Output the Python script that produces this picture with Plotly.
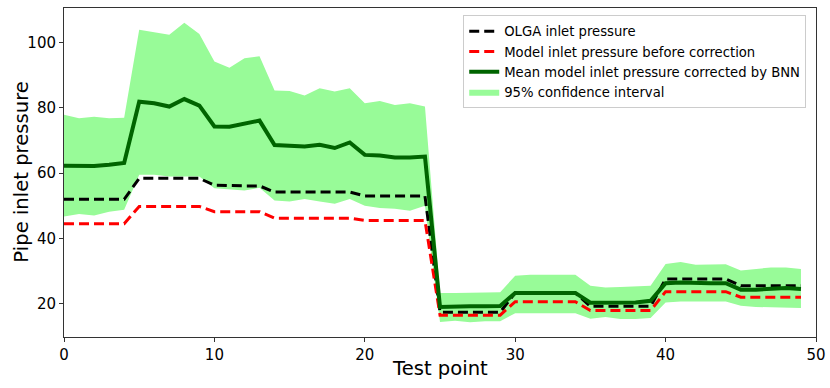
import numpy as np
import plotly.graph_objects as go

# test point index
test_point = list(range(50))

# OLGA inlet pressure (reference)
olga = [52.0] * 5 + [58.4] * 5 + [56.3] + [56.1] * 3 + [54.2] * 6 + [53.0] * 5 \
     + [17.4] * 5 + [23.3] * 5 + [19.2] * 5 + [27.6] * 5 + [25.5] * 5

# model before correction
model_raw = [44.5] * 5 + [49.8] * 5 + [48.2] * 4 + [46.2] * 6 + [45.5] * 5 \
          + [16.5] * 5 + [20.6] * 5 + [17.9] * 5 + [23.7] * 5 + [22.0] * 5

# BNN corrected mean
bnn_mean = [62.3, 62.3, 62.2, 62.6, 63.1, 81.9, 81.4, 80.4, 82.7, 80.7,
            74.3, 74.2, 75.1, 76.1, 68.6, 68.4, 68.2, 68.7, 67.7, 69.4,
            65.6, 65.4, 64.8, 64.8, 65.1, 19.0, 19.2, 19.2, 19.2, 19.3,
            23.3, 23.3, 23.3, 23.3, 23.3, 20.3, 20.4, 20.4, 20.4, 20.9,
            26.3, 26.5, 26.3, 26.3, 26.3, 24.3, 24.3, 24.5, 24.8, 24.5]

# 95% interval bounds
ci_upper = [77.9, 76.8, 77.3, 76.8, 77.0, 103.9, 103.2, 102.4, 106.1, 102.6,
            94.2, 92.3, 95.2, 95.8, 85.3, 85.2, 83.8, 86.0, 85.0, 86.0,
            81.4, 82.1, 80.9, 81.4, 80.4, 23.3, 23.3, 23.3, 23.3, 23.5,
            28.6, 28.9, 28.9, 28.9, 28.9, 25.5, 25.0, 25.1, 25.3, 25.5,
            32.2, 32.8, 31.9, 32.1, 32.1, 30.2, 30.6, 31.1, 31.1, 30.6]
ci_lower = [46.7, 47.5, 47.0, 48.2, 48.8, 59.5, 59.5, 59.0, 59.0, 59.0,
            55.4, 55.1, 54.7, 55.5, 51.6, 51.3, 52.1, 51.3, 50.6, 52.1,
            50.0, 49.3, 49.1, 48.5, 50.0, 14.4, 14.8, 14.3, 14.6, 14.6,
            17.1, 17.1, 17.1, 17.1, 17.1, 15.4, 15.9, 15.3, 15.3, 15.6,
            20.4, 20.7, 20.7, 20.6, 20.7, 19.4, 19.0, 18.9, 18.9, 18.7]

fig = go.Figure()

fig.add_trace(go.Scatter(x=test_point, y=ci_upper, mode='lines',
                         line=dict(width=0, color='#98fb98'),
                         showlegend=False, hoverinfo='skip'))
fig.add_trace(go.Scatter(x=test_point, y=ci_lower, mode='lines',
                         line=dict(width=0, color='#98fb98'),
                         fill='tonexty', fillcolor='#98fb98',
                         name='95% confidence interval', legendrank=4))
fig.add_trace(go.Scatter(x=test_point, y=olga, mode='lines',
                         line=dict(color='black', width=3, dash='10px,5px'),
                         name='OLGA inlet pressure', legendrank=1))
fig.add_trace(go.Scatter(x=test_point, y=model_raw, mode='lines',
                         line=dict(color='red', width=3, dash='10px,5px'),
                         name='Model inlet pressure before correction', legendrank=2))
fig.add_trace(go.Scatter(x=test_point, y=bnn_mean, mode='lines',
                         line=dict(color='#006400', width=4),
                         name='Mean model inlet pressure corrected by BNN', legendrank=3))

axis_style = dict(showline=True, linecolor='#333333', linewidth=1, mirror=True,
                  ticks='outside', ticklen=4, tickcolor='#333333',
                  showgrid=False, zeroline=False, automargin=False,
                  tickfont=dict(size=15, color='black'))

fig.update_layout(
    width=830, height=388,
    margin=dict(l=64, r=14, t=8, b=51),
    plot_bgcolor='white', paper_bgcolor='white',
    font=dict(family='DejaVu Sans', color='black'),
    showlegend=True,
    legend=dict(x=0.987, y=0.978, xanchor='right', yanchor='top',
                bgcolor='rgba(255,255,255,0.8)', bordercolor='#cccccc', borderwidth=1,
                font=dict(size=13.2), traceorder='normal', tracegroupgap=0,
                itemwidth=30),
    xaxis=dict(range=[0, 50], tickvals=[0, 10, 20, 30, 40, 50], **axis_style),
    yaxis=dict(range=[9.8, 110.6], tickvals=[20, 40, 60, 80, 100], **axis_style),
    annotations=[
        dict(text='Test point', xref='paper', yref='paper', x=0.5, y=-0.095,
             xanchor='center', yanchor='middle', showarrow=False,
             font=dict(size=19.6)),
        dict(text='Pipe inlet pressure', xref='paper', yref='paper', x=-0.057, y=0.5,
             xanchor='center', yanchor='middle', textangle=-90, showarrow=False,
             font=dict(size=19.6)),
    ],
)

# page body has a default 8px margin; drop it so the figure fills the window
fig.write_html("out.html", post_script="document.body.style.margin='0';",
               config={'displayModeBar': False})
